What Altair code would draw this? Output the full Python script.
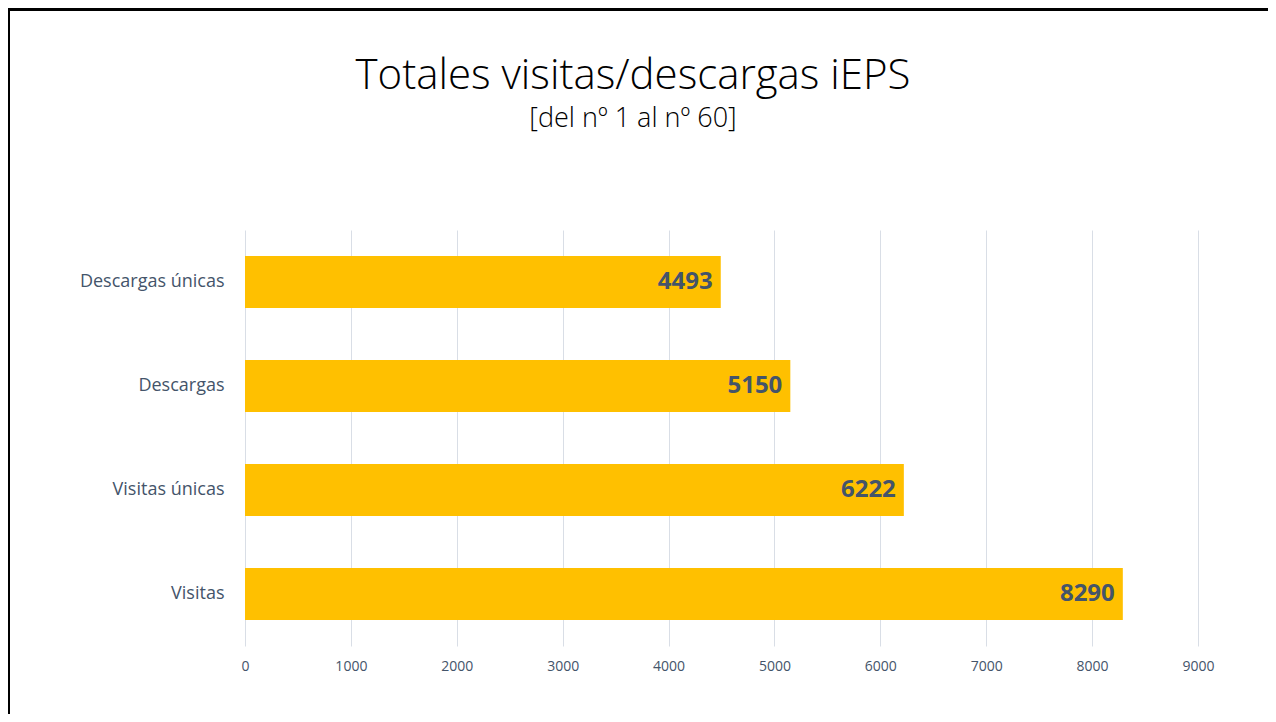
import altair as alt
import pandas as pd

categories = ["Descargas únicas", "Descargas", "Visitas únicas", "Visitas"]
values = [4493, 5150, 6222, 8290]
x_ticks = [0, 1000, 2000, 3000, 4000, 5000, 6000, 7000, 8000, 9000]
title_text = "Totales visitas/descargas iEPS"
subtitle_text = "[del nº 1 al nº 60]"

df = pd.DataFrame({"cat": categories, "val": values})

label_color = "#44546A"
font = "Open Sans"

y_enc = alt.Y(
    "cat:N",
    sort=categories,
    scale=alt.Scale(paddingInner=0.5, paddingOuter=0.25),
    axis=alt.Axis(
        title=None, ticks=False, domain=False, labelFontSize=18,
        labelColor=label_color, labelPadding=21, labelFont=font,
    ),
)
x_enc = alt.X(
    "val:Q",
    scale=alt.Scale(domain=[0, 9000], nice=False),
    axis=alt.Axis(
        title=None, values=x_ticks, format="d", grid=True, gridColor="#D9DEE6",
        domain=False, ticks=False, labelPadding=13, labelFontSize=14,
        labelColor=label_color, labelFont=font, labelFlush=False,
    ),
)

bars = alt.Chart(df).mark_bar(color="#FFC000").encode(y=y_enc, x=x_enc)
texts = alt.Chart(df).mark_text(
    align="right", baseline="middle", dx=-8, fontSize=24,
    fontWeight="bold", color=label_color, font=font,
).encode(y=y_enc, x=x_enc, text="val:Q")

one = pd.DataFrame({"a": [0]})
frame = alt.Chart(one).mark_rect(
    filled=False, stroke="black", strokeWidth=3, clip=False
).encode(
    x=alt.value(-236.5), x2=alt.value(1200),
    y=alt.value(-220.5), y2=alt.value(700),
)
title = alt.Chart(one).mark_text(
    text=title_text, font=font, fontWeight=300, fontSize=42,
    color="black", align="center", baseline="alphabetic",
).encode(x=alt.value(388), y=alt.value(-141))
subtitle = alt.Chart(one).mark_text(
    text=subtitle_text, font=font, fontWeight=300, fontSize=27,
    color="black", align="center", baseline="alphabetic",
).encode(x=alt.value(388), y=alt.value(-103))

chart = alt.layer(frame, title, subtitle, bars, texts).properties(
    width=953,
    height=416,
    autosize=alt.AutoSizeParams(type="none"),
    padding={"left": 237, "top": 222, "right": 70, "bottom": 68},
).configure_view(stroke=None)

chart.save("out.html", embed_options={"renderer": "svg", "actions": False})
